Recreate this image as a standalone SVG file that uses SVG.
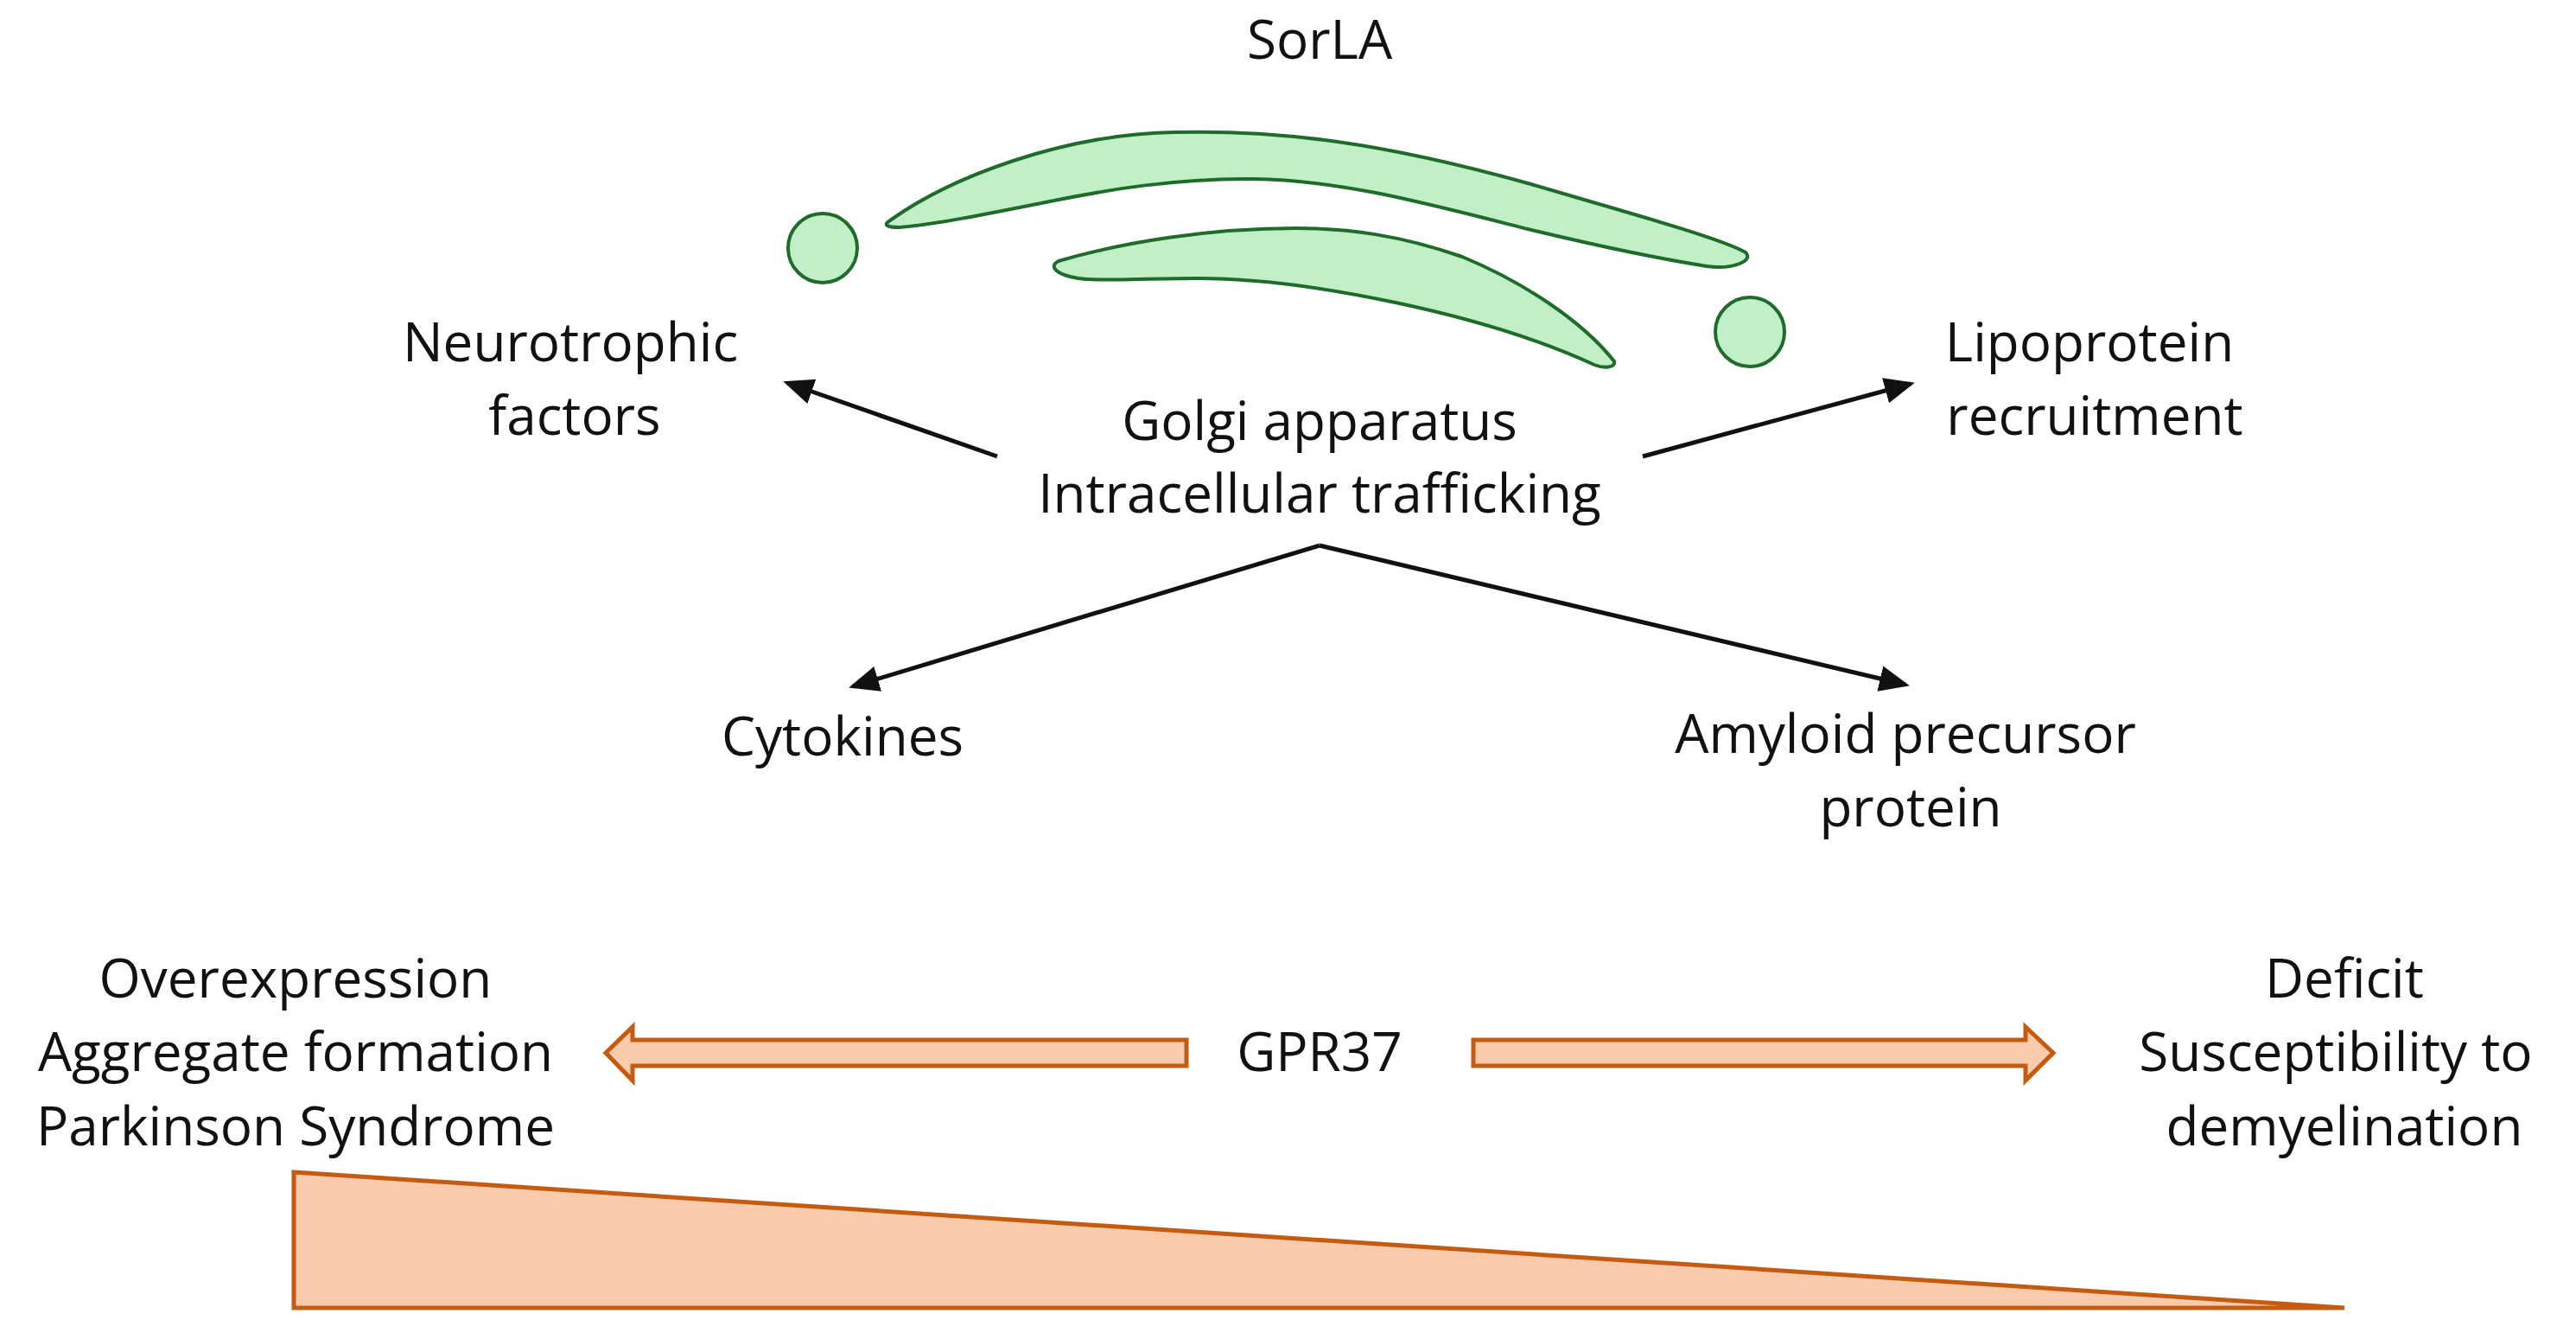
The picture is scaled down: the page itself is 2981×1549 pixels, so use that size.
<svg xmlns="http://www.w3.org/2000/svg" width="2981" height="1549" viewBox="0 0 2981 1549">
<style>
text{font-family:"Open Sans","Liberation Sans",sans-serif;font-size:62px;fill:#111;text-anchor:middle}
.g{fill:#c1efc8;stroke:#1e6b2a;stroke-width:4}
.c{stroke:#111;stroke-width:5;fill:none;marker-end:url(#ah)}
.o{fill:#f8cbad;stroke:#c55a11;stroke-width:5}
</style>
<defs>
<marker id="ah" markerWidth="8" markerHeight="8" refX="6" refY="4" orient="auto" markerUnits="strokeWidth"><path d="M0,1 L7,4 L0,7 z" fill="#111"/></marker>
</defs>
<rect width="2981" height="1549" fill="#fff"/>
<g id="sorla"><text x="1527" y="68">SorLA</text></g>
<g id="golgi-shapes">
<circle class="g" cx="952" cy="287" r="40"/>
<circle class="g" cx="2025" cy="384" r="40"/>
<path class="g" d="M1030,255 C1100,205 1230,155 1360,153 C1480,150 1600,165 1768,212 C1880,245 1990,275 2020,292 C2030,302 2005,312 1975,308 C1900,296 1830,280 1768,265 C1650,235 1550,208 1450,207 C1360,206 1280,220 1220,232 C1140,248 1080,260 1041,263 C1025,263 1022,260 1030,255 Z"/>
<path class="g" d="M1225,302 C1300,280 1400,264 1500,264 C1560,264 1620,272 1692,297 C1760,325 1830,370 1868,418 C1870,426 1855,426 1845,422 C1780,392 1700,368 1615,350 C1530,332 1450,322 1386,322 C1320,322 1270,326 1248,322 C1222,318 1213,308 1225,302 Z"/>
</g>
<g id="golgi"><text x="1527" y="509">Golgi apparatus</text><text x="1527" y="593">Intracellular trafficking</text></g>
<g id="neurotrophic"><text x="660" y="418">Neurotrophic</text><text x="665" y="503">factors</text></g>
<g id="lipoprotein"><text x="2418" y="418">Lipoprotein</text><text x="2424" y="503">recruitment</text></g>
<g id="cytokines"><text x="975" y="874">Cytokines</text></g>
<g id="app"><text x="2205" y="871">Amyloid precursor</text><text x="2211" y="956">protein</text></g>
<g id="connectors">
<line class="c" x1="1154" y1="528" x2="911" y2="443"/>
<line class="c" x1="1901" y1="528" x2="2211" y2="444"/>
<line class="c" x1="1527" y1="631" x2="987" y2="794"/>
<line class="c" x1="1527" y1="631" x2="2205" y2="792"/>
</g>
<g id="overexpression"><text x="342" y="1154">Overexpression</text><text x="342" y="1239">Aggregate formation</text><text x="342" y="1325">Parkinson Syndrome</text></g>
<g id="gpr37"><text x="1527" y="1239">GPR37</text></g>
<g id="deficit"><text x="2713" y="1154">Deficit</text><text x="2703" y="1239">Susceptibility to</text><text x="2713" y="1325">demyelination</text></g>
<g id="block-arrows">
<path class="o" d="M1373,1203 L732,1203 L732,1188 L701,1218 L732,1250 L732,1233 L1373,1233 Z"/>
<path class="o" d="M1705,1203 L2344,1203 L2344,1188 L2376,1218 L2344,1250 L2344,1233 L1705,1233 Z"/>
</g>
<g id="gradient"><path class="o" d="M340,1356 L2713,1513 L340,1513 Z"/></g>
</svg>
